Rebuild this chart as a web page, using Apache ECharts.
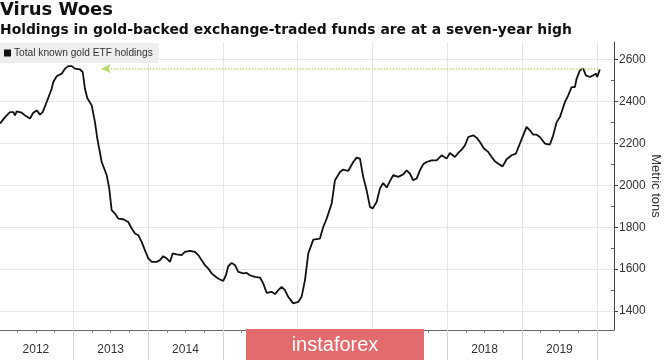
<!DOCTYPE html>
<html><head><meta charset="utf-8">
<script src="https://cdn.jsdelivr.net/npm/echarts@6/dist/echarts.min.js"></script>
<style>html,body{margin:0;padding:0;background:#fff}#c{width:665px;height:360px}</style>
</head><body><div id="c"></div>
<script>
// Decimal-year position of each traced point
const yearPos = [2012.020,2012.087,2012.154,2012.198,2012.221,2012.243,2012.310,2012.354,2012.421,2012.465,2012.511,2012.555,2012.591,2012.644,2012.711,2012.733,2012.778,2012.845,2012.889,2012.933,2012.979,2013.023,2013.090,2013.126,2013.156,2013.187,2013.246,2013.290,2013.321,2013.380,2013.447,2013.481,2013.513,2013.557,2013.602,2013.668,2013.691,2013.735,2013.781,2013.825,2013.869,2013.914,2013.959,2014.003,2014.048,2014.115,2014.159,2014.203,2014.249,2014.293,2014.316,2014.329,2014.382,2014.449,2014.493,2014.560,2014.627,2014.671,2014.717,2014.761,2014.805,2014.850,2014.917,2014.961,2015.005,2015.041,2015.072,2015.118,2015.162,2015.206,2015.273,2015.318,2015.362,2015.429,2015.496,2015.540,2015.586,2015.652,2015.697,2015.741,2015.786,2015.830,2015.874,2015.941,2016.008,2016.053,2016.098,2016.142,2016.209,2016.298,2016.342,2016.388,2016.455,2016.499,2016.566,2016.610,2016.676,2016.743,2016.789,2016.833,2016.877,2016.922,2016.967,2017.003,2017.056,2017.100,2017.144,2017.190,2017.234,2017.278,2017.345,2017.412,2017.457,2017.501,2017.545,2017.591,2017.635,2017.679,2017.725,2017.791,2017.858,2017.925,2017.992,2018.036,2018.103,2018.147,2018.193,2018.237,2018.281,2018.348,2018.393,2018.437,2018.491,2018.548,2018.594,2018.638,2018.682,2018.741,2018.794,2018.861,2018.918,2018.972,2019.016,2019.061,2019.105,2019.150,2019.195,2019.239,2019.306,2019.373,2019.417,2019.463,2019.507,2019.574,2019.618,2019.663,2019.707,2019.730,2019.774,2019.818,2019.854,2019.907,2019.952,2019.988,2020.005,2020.041];
// Total known gold ETF holdings (metric tons)
const tons = [2294,2325,2349,2349,2333,2352,2346,2333,2318,2346,2357,2337,2349,2397,2460,2492,2520,2532,2556,2568,2568,2556,2552,2540,2460,2416,2381,2301,2222,2111,2048,1984,1881,1865,1841,1838,1837,1825,1794,1770,1762,1730,1690,1651,1635,1635,1643,1662,1651,1635,1627,1675,1671,1667,1682,1687,1682,1667,1643,1619,1603,1580,1560,1551,1544,1571,1614,1630,1619,1587,1580,1582,1571,1563,1560,1532,1487,1492,1481,1500,1516,1500,1468,1437,1444,1468,1548,1675,1741,1746,1801,1841,1913,2024,2063,2075,2068,2111,2132,2127,2040,1976,1897,1889,1920,1984,2011,1989,2020,2048,2040,2052,2071,2056,2024,2032,2071,2100,2111,2119,2119,2143,2127,2154,2135,2154,2170,2190,2230,2238,2227,2206,2175,2159,2135,2114,2103,2090,2124,2143,2151,2199,2238,2278,2262,2241,2241,2230,2199,2194,2238,2301,2325,2397,2429,2468,2468,2508,2548,2556,2524,2516,2524,2532,2516,2552];

const seriesName = 'Total known gold ETF holdings';
const titleText = 'Virus Woes';
const subtitleText = 'Holdings in gold-backed exchange-traded funds are at a seven-year high';
const yAxisName = 'Metric tons';
const yTicks = [1400,1600,1800,2000,2200,2400,2600];
const yMinorTicks = [1500,1700,1900,2100,2300,2500];
const yearBoundaries = [2013,2014,2015,2016,2017,2018,2019,2020];
const yearLabelPos = [2012.5,2013.5,2014.5,2015.5,2016.5,2017.5,2018.5,2019.5];
const quarterTicks = [2012.25,2012.5,2012.75,2013.25,2013.5,2013.75,2014.25,2014.5,2014.75,2015.25,2015.5,2015.75,2016.25,2016.5,2016.75,2017.25,2017.5,2017.75,2018.25,2018.5,2018.75,2019.25,2019.5,2019.75];
const recentHigh = 2556;
const arrowFrom = 2013.38, arrowTo = 2020.04;
const xMin = 2012.02, xMax = 2020.23;
const yMin = 1310, yMax = 2683;

const chart = echarts.init(document.getElementById('c'), null, {renderer: 'canvas'});
const FONT = 'Liberation Sans';
const TFONT = 'DejaVu Sans';
const option = {
  animation: false,
  backgroundColor: '#ffffff',
  textStyle: {fontFamily: FONT},
  title: [
    {text: titleText, left: 0, top: 1, padding: 0,
     textStyle: {fontFamily: TFONT, fontSize: 18, fontWeight: 'bold', color: '#111'}},
    {text: subtitleText, left: 0, top: 23, padding: 0,
     textStyle: {fontFamily: TFONT, fontSize: 13.9, fontWeight: 'bold', color: '#111'}}
  ],
  legend: {
    data: [seriesName], left: 0, top: 43, icon: 'rect', itemWidth: 7, itemHeight: 7,
    itemGap: 4, backgroundColor: '#eeeeee', padding: [5, 6, 5, 4],
    textStyle: {fontFamily: FONT, fontSize: 10.2, color: '#333', padding: [0,0,0,-2]}
  },
  grid: {left: 0, right: 51, top: 42, bottom: 30, containLabel: false, outerBoundsMode: 'none'},
  xAxis: [
    {type: 'value', min: xMin, max: xMax, position: 'bottom',
     axisLine: {show: true, lineStyle: {color: '#666', width: 1}},
     axisTick: {show: true, customValues: yearBoundaries, length: 30, lineStyle: {color: '#d4d4d4'}},
     axisLabel: {customValues: yearLabelPos, formatter: v => String(Math.floor(v)),
       fontFamily: FONT, fontSize: 12, color: '#333', margin: 14},
     splitLine: {show: true, lineStyle: {color: '#e6e6e6'}}},
    {type: 'value', min: xMin, max: xMax, position: 'bottom',
     axisLine: {show: false},
     axisTick: {show: true, customValues: quarterTicks, length: 3, lineStyle: {color: '#888'}},
     axisLabel: {show: false}, splitLine: {show: false}}
  ],
  yAxis: [
    {type: 'value', min: yMin, max: yMax, position: 'right',
     axisLine: {show: true, lineStyle: {color: '#444', width: 1}},
     axisTick: {show: true, customValues: yTicks, length: 4, lineStyle: {color: '#444'}},
     axisLabel: {customValues: yTicks, formatter: v => String(v), fontFamily: FONT, fontSize: 12, color: '#333', margin: 5},
     splitLine: {show: true, lineStyle: {color: '#e6e6e6'}}},
    {type: 'value', min: yMin, max: yMax, position: 'right',
     axisLine: {show: false},
     axisTick: {show: true, inside: true, customValues: yMinorTicks, length: 3, lineStyle: {color: '#666'}},
     axisLabel: {show: false}, splitLine: {show: false}}
  ],
  series: [{
    name: seriesName, type: 'line', xAxisIndex: 0, yAxisIndex: 0,
    data: yearPos.map((x, i) => [x, tons[i]]),
    showSymbol: false, symbol: 'none', color: '#111',
    lineStyle: {color: '#111', width: 1.8},
    markLine: {
      silent: true, symbol: ['arrow', 'none'], symbolSize: [7, 9],
      label: {show: false},
      lineStyle: {color: '#b5d86a', type: 'dotted', width: 1.5},
      data: [[{coord: [arrowFrom, recentHigh]}, {coord: [arrowTo, recentHigh]}]]
    }
  }],
  graphic: [
    {type: 'text', x: 656, y: 186, rotation: -Math.PI / 2, z: 50,
     style: {text: yAxisName, fill: '#333', font: '13px "Liberation Sans"', textAlign: 'center', textVerticalAlign: 'middle'}},
    {type: 'rect', shape: {x: 246, y: 329, width: 178, height: 31}, style: {fill: '#e46b6d'}, z: 100},
    {type: 'text', x: 335, y: 345, z: 101,
     style: {text: 'instaforex', fill: '#ffffff', font: '20px "Liberation Sans"', textAlign: 'center', textVerticalAlign: 'middle'}}
  ]
};
chart.setOption(option);
</script></body></html>
